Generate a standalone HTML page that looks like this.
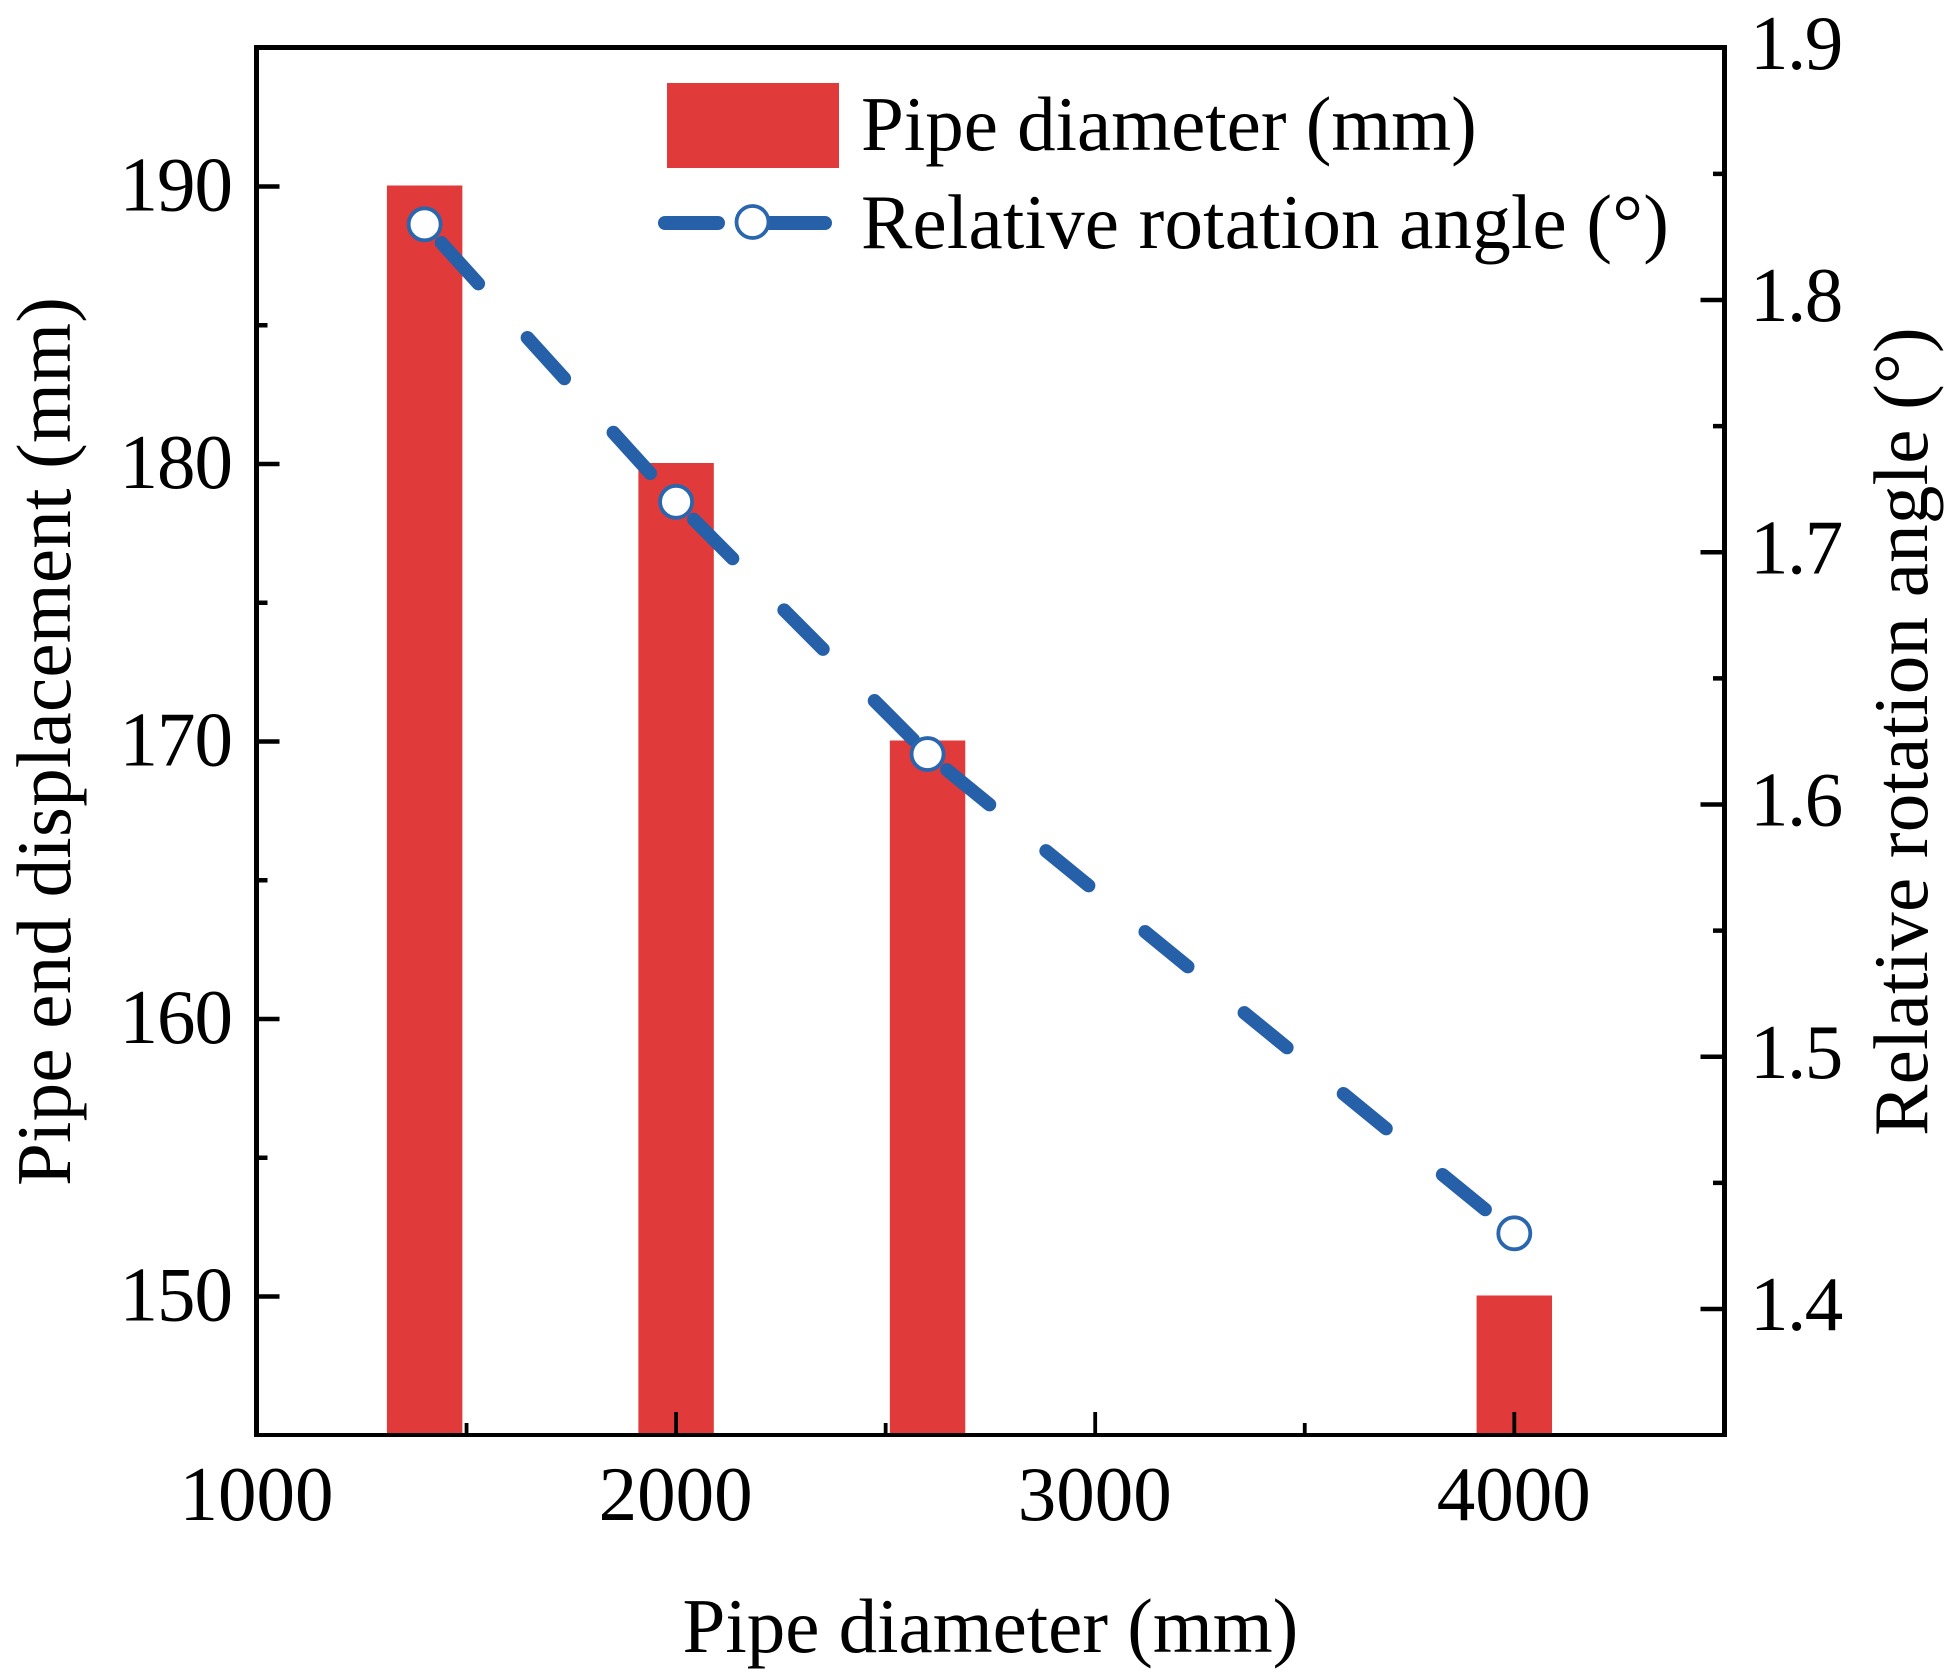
<!DOCTYPE html>
<html lang="en">
<head>
<meta charset="utf-8">
<title>Pipe end displacement and relative rotation angle</title>
<style>
html,body{margin:0;padding:0;background:#fff;}
svg{display:block;}
text{font-family:"Liberation Serif","Times New Roman",serif;font-size:77px;fill:#000;}
</style>
</head>
<body>
<svg id="chart" xmlns="http://www.w3.org/2000/svg" width="1956" height="1680" viewBox="0 0 1956 1680">
  <rect x="0" y="0" width="1956" height="1680" fill="#fff"/>
  <g id="bars"></g>
  <g id="line"></g>
  <g id="frame"></g>
  <g id="ticks"></g>
  <g id="labels"></g>
  <text x="682.5" y="1652">Pipe diameter (mm)</text>
  <text letter-spacing="0.23" transform="translate(70 1186) rotate(-90)">Pipe end displacement (mm)</text>
  <text letter-spacing="0.23" transform="translate(1927 1136) rotate(-90)">Relative rotation angle (°)</text>
  <g>
    <rect x="667" y="83" width="172" height="85" fill="#e13a3a"/>
    <text x="861" y="150">Pipe diameter (mm)</text>
    <line x1="665" y1="223" x2="718" y2="223" stroke="#2560a9" stroke-width="14" stroke-linecap="round"/>
    <line x1="765" y1="223" x2="825" y2="223" stroke="#2560a9" stroke-width="14" stroke-linecap="round"/>
    <circle cx="752.5" cy="222" r="16" fill="#fff" stroke="#2a66ae" stroke-width="3.8"/>
    <text letter-spacing="0.2" x="861" y="248">Relative rotation angle (°)</text>
  </g>
</svg>
<script>
const categories = [1400, 2000, 2600, 4000];
const barValues = [190, 180, 170, 150];
const angleValues = [1.83, 1.72, 1.62, 1.43];
const xTickLabels = [1000, 2000, 3000, 4000];
const xMinorTicks = [1500, 2500, 3500];
const leftTickLabels = [150, 160, 170, 180, 190];
const leftMinorTicks = [155, 165, 175, 185];
const rightTickLabels = ["1.4", "1.5", "1.6", "1.7", "1.8", "1.9"];
const rightMinorTicks = [1.45, 1.55, 1.65, 1.75, 1.85];

const NS = "http://www.w3.org/2000/svg";
const xScale = v => 257 + (v - 1000) * 0.4191;
const yLeft = v => 186.5 + (190 - v) * 27.75;
const yRight = v => 47.75 + (1.9 - v) * 2522.5;
const BAR_WIDTH_UNITS = 180;
const PLOT_BOTTOM = 1435;
const PLOT_TOP = 47.5;
const PLOT_LEFT = 256.5;
const PLOT_RIGHT = 1724.5;

function make(tag, parentId) {
  const el = document.createElementNS(NS, tag);
  document.getElementById(parentId).appendChild(el);
  return el;
}
function setLine(el, x1, y1, x2, y2, stroke, width) {
  el.setAttribute("x1", x1);
  el.setAttribute("y1", y1);
  el.setAttribute("x2", x2);
  el.setAttribute("y2", y2);
  el.setAttribute("stroke", stroke);
  el.setAttribute("stroke-width", width);
}

categories.forEach((c, i) => {
  const w = BAR_WIDTH_UNITS * 0.4191;
  const top = yLeft(barValues[i]) - 1;
  const r = make("rect", "bars");
  
  
  r.setAttribute("x", xScale(c) - w / 2);
  r.setAttribute("y", top);
  r.setAttribute("width", w);
  r.setAttribute("height", PLOT_BOTTOM - top);
  r.setAttribute("fill", "#e13a3a");
});

const DASH = 55, GAP = 73, MARKER_GAP = 25;
for (let i = 0; i < categories.length - 1; i++) {
  const l = make("line", "line");
  
  
  setLine(l, xScale(categories[i]), yRight(angleValues[i]), xScale(categories[i + 1]), yRight(angleValues[i + 1]), "#2560a9", 13.5);
  l.setAttribute("stroke-linecap", "round");
  l.setAttribute("stroke-dasharray", DASH + " " + GAP);
  l.setAttribute("stroke-dashoffset", -MARKER_GAP);
}
categories.forEach((c, i) => {
  const m = make("circle", "line");
  
  
  m.setAttribute("cx", xScale(c));
  m.setAttribute("cy", yRight(angleValues[i]));
  m.setAttribute("r", 16);
  m.setAttribute("fill", "#fff");
  m.setAttribute("stroke", "#2a66ae");
  m.setAttribute("stroke-width", 3.8);
});

const frameTop = make("line", "frame");


setLine(frameTop, 254, PLOT_TOP, 1727, PLOT_TOP, "#000", 5);
const frameBottom = make("line", "frame");


setLine(frameBottom, 254, PLOT_BOTTOM, 1727, PLOT_BOTTOM, "#000", 4);
const frameLeft = make("line", "frame");


setLine(frameLeft, PLOT_LEFT, 45, PLOT_LEFT, 1437, "#000", 5);
const frameRight = make("line", "frame");


setLine(frameRight, PLOT_RIGHT, 45, PLOT_RIGHT, 1437, "#000", 5);

function xTick(v, len) {
  const t = make("line", "ticks");
  
  
  setLine(t, xScale(v), PLOT_BOTTOM - 2, xScale(v), PLOT_BOTTOM - 2 - len, "#000", 3.8);
}
function leftTick(v, len) {
  const t = make("line", "ticks");
  
  
  setLine(t, PLOT_LEFT + 2.5, yLeft(v), PLOT_LEFT + 2.5 + len, yLeft(v), "#000", 4.5);
}
function rightTick(v, len) {
  const t = make("line", "ticks");
  
  
  setLine(t, PLOT_RIGHT - 2.5, yRight(v), PLOT_RIGHT - 2.5 - len, yRight(v), "#000", 4.5);
}
xTickLabels.slice(1).forEach(v => xTick(v, 21));
xMinorTicks.forEach(v => xTick(v, 10));
leftTickLabels.forEach(v => leftTick(v, 20.5));
leftMinorTicks.forEach(v => leftTick(v, 8.5));
rightTickLabels.slice(0, 5).forEach(v => rightTick(parseFloat(v), 21.5));
rightMinorTicks.forEach(v => rightTick(v, 9));

xTickLabels.forEach(v => {
  const t = make("text", "labels");
  
  
  t.setAttribute("x", xScale(v) - 0.5);
  t.setAttribute("y", 1520);
  t.setAttribute("text-anchor", "middle");
  t.textContent = v;
});
leftTickLabels.forEach(v => {
  const t = make("text", "labels");
  
  
  t.setAttribute("x", 232);
  t.setAttribute("y", yLeft(v) + 24);
  t.setAttribute("text-anchor", "end");
  t.setAttribute("letter-spacing", "-1");
  t.textContent = v;
});
rightTickLabels.forEach(v => {
  const t = make("text", "labels");
  
  
  t.setAttribute("x", 1750);
  t.setAttribute("y", yRight(parseFloat(v)) + 21);
  t.setAttribute("letter-spacing", "-1.5");
  t.textContent = v;
});
</script>
</body>
</html>
